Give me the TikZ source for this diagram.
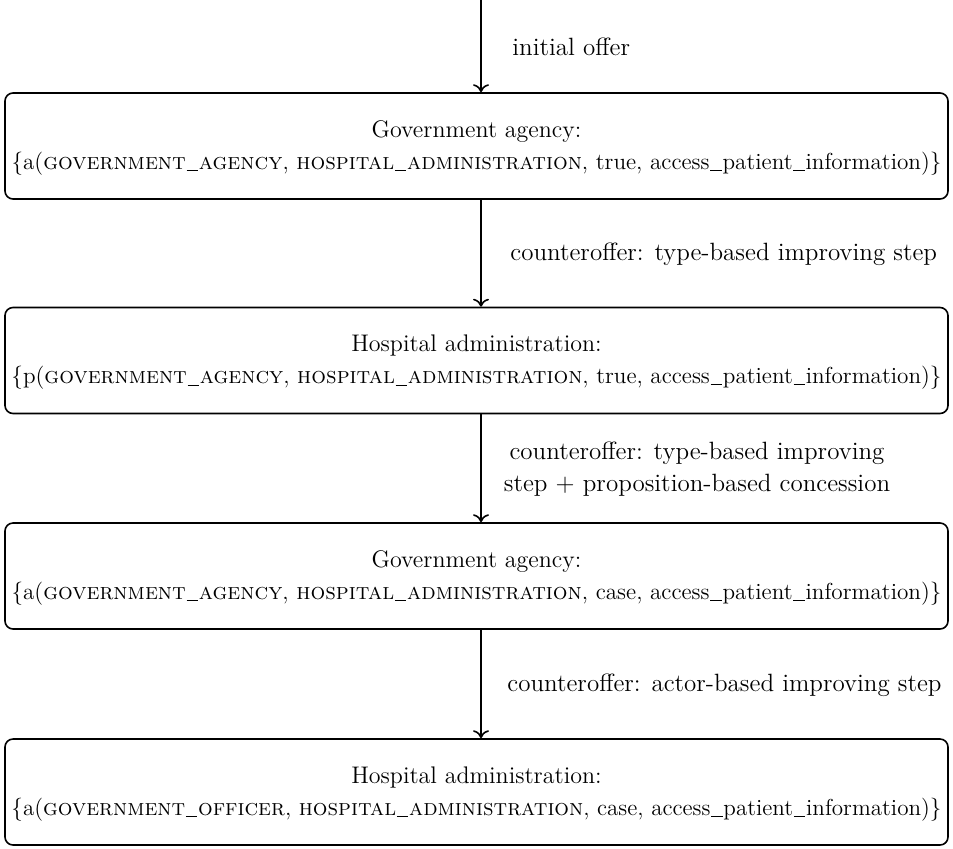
\documentclass[tikz,border=0pt]{standalone}
\usetikzlibrary{arrows.meta}
\newcommand{\us}{\kern0.03em\rule[-0.12ex]{0.5em}{0.4pt}\kern0.03em}
\newcommand{\pline}[1]{\resizebox{465pt}{!}{#1}}
\begin{document}
\begin{tikzpicture}[x=0.5pt,y=-0.5pt,
  box/.style={draw, line width=0.8pt, rounded corners=4pt, minimum width=471.5pt, minimum height=53pt, inner sep=0pt},
  txt/.style={align=center, inner sep=0pt, font=\fontsize{12}{16}\selectfont, yshift=-1pt},
  arr/.style={-{To[length=4pt,width=8pt]}, line width=0.8pt},
  lab/.style={font=\fontsize{12.5}{16}\selectfont, align=center, inner sep=0pt}]
\useasboundingbox (0,0) rectangle (953,848);
\node[box] (b1) at (476.5,146) {};
\node[box] (b2) at (476.5,360.5) {};
\node[box] (b3) at (476.5,576) {};
\node[box] (b4) at (476.5,792) {};
\node[txt] (t1) at (b1.center) {Government agency:\\\pline{\{a(\textsc{government\us agency}, \textsc{hospital\us administration}, true, access\us patient\us information)\}}};
\node[txt] (t2) at (b2.center) {Hospital administration:\\\pline{\{p(\textsc{government\us agency}, \textsc{hospital\us administration}, true, access\us patient\us information)\}}};
\node[txt] (t3) at (b3.center) {Government agency:\\\pline{\{a(\textsc{government\us agency}, \textsc{hospital\us administration}, case, access\us patient\us information)\}}};
\node[txt] (t4) at (b4.center) {Hospital administration:\\\pline{\{a(\textsc{government\us officer}, \textsc{hospital\us administration}, case, access\us patient\us information)\}}};
\coordinate (top) at (481,0);
\draw[arr] (top) -- ([xshift=2.25pt]b1.north);
\draw[arr] ([xshift=2.25pt]b1.south) -- ([xshift=2.25pt]b2.north);
\draw[arr] ([xshift=2.25pt]b2.south) -- ([xshift=2.25pt]b3.north);
\draw[arr] ([xshift=2.25pt]b3.south) -- ([xshift=2.25pt]b4.north);
\node[lab, anchor=west] (l1) at (512,47) {initial offer};
\node[lab, anchor=west] (l2) at (510,254) {counteroffer: type-based improving step};
\node[lab] (l3) at (697,469) {counteroffer: type-based improving\\step + proposition-based concession};
\node[lab, anchor=west] (l4) at (507,685) {counteroffer: actor-based improving step};
\end{tikzpicture}
\end{document}
